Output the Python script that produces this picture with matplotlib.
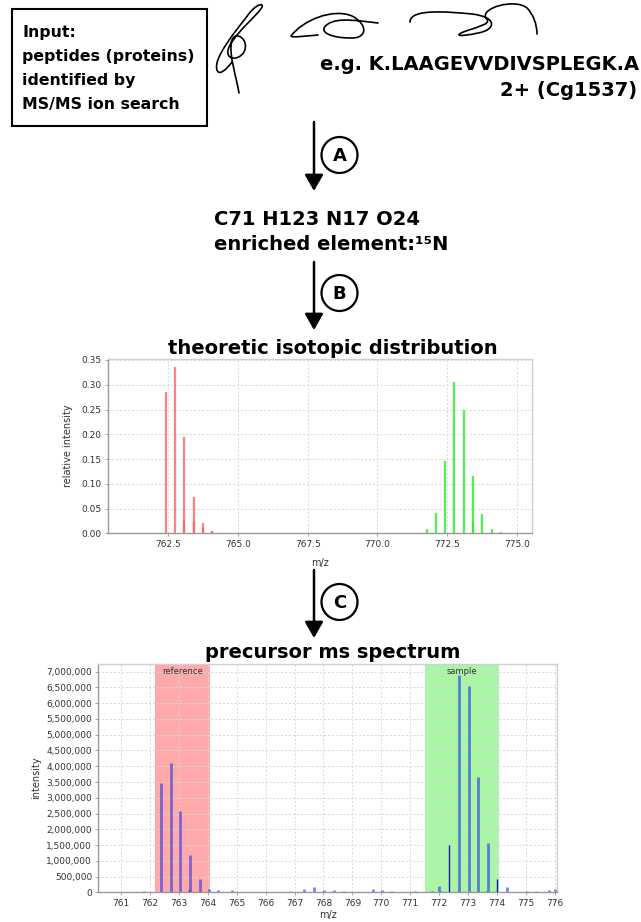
import matplotlib
matplotlib.use("Agg")
import matplotlib.pyplot as plt
from matplotlib.path import Path
from matplotlib.patches import PathPatch, Circle, Rectangle
from matplotlib.ticker import FuncFormatter, MultipleLocator, FormatStrFormatter

# ---------------- data ----------------
peptide = "e.g. K.LAAGEVVDIVSPLEGK.A"
charge_protein = "2+ (Cg1537)"
formula = "C71 H123 N17 O24"

# theoretic isotopic distribution (relative intensity)
theo_ref_mz = [762.40, 762.73, 763.06, 763.40, 763.73, 764.06, 764.40]
theo_ref_int = [0.286, 0.335, 0.194, 0.074, 0.021, 0.005, 0.0015]
theo_ref_minor_mz = [763.06, 763.40, 763.73, 764.06]
theo_ref_minor_int = [0.025, 0.025, 0.010, 0.004]

theo_sam_mz = [771.77, 772.11, 772.44, 772.76, 773.10, 773.43, 773.77, 774.10, 774.43]
theo_sam_int = [0.008, 0.041, 0.147, 0.305, 0.248, 0.116, 0.038, 0.008, 0.002]
theo_sam_minor_mz = [773.43]
theo_sam_minor_int = [0.024]

# precursor ms spectrum (intensity)
spec_mz = [761.80, 762.38, 762.71, 763.05, 763.38, 763.72, 764.05, 764.36, 764.85,
           766.33, 766.84, 767.34, 767.67, 768.02, 768.36, 768.69, 769.70, 770.04,
           770.37, 770.78, 771.15, 771.77, 772.01, 772.07, 772.68, 773.02, 773.35,
           773.68, 773.62, 773.97, 774.36, 774.59, 775.03, 775.36, 775.81, 776.00]
spec_int = [50e3, 3.46e6, 4.09e6, 2.58e6, 1.18e6, 0.42e6, 0.10e6, 70e3, 60e3,
            20e3, 40e3, 100e3, 170e3, 80e3, 70e3, 50e3, 90e3, 60e3,
            30e3, 20e3, 30e3, 40e3, 200e3, 50e3, 6.90e6, 6.56e6, 3.67e6,
            1.58e6, 40e3, 50e3, 170e3, 20e3, 40e3, 30e3, 70e3, 100e3]
spec_dark_mz = [763.35, 772.35, 774.02]
spec_dark_int = [60e3, 1.50e6, 0.42e6]

ref_window = (762.18, 764.08)
sam_window = (771.52, 774.09)

# ---------------- figure ----------------
W, H = 641, 922
fig = plt.figure(figsize=(W / 100, H / 100), dpi=100)
fig.patch.set_facecolor("white")

# overlay in pixel coordinates for the flow diagram
ov = fig.add_axes([0, 0, 1, 1], zorder=0)
ov.set_xlim(0, W)
ov.set_ylim(H, 0)
ov.axis("off")
ov.patch.set_alpha(0)

bold = dict(fontweight="bold", family="DejaVu Sans", color="black")

# input box
ov.add_patch(Rectangle((12, 9), 195, 117, fill=False, lw=1.5, ec="black"))
for txt, yb in zip(["Input:", "peptides (proteins)", "identified by", "MS/MS ion search"],
                   [37.5, 61.5, 85, 108.5]):
    ov.text(22, yb, txt, fontsize=11.3, va="baseline", ha="left", **bold)

# hand-drawn squiggles (peptide sketch)
def squiggle(verts):
    codes = [Path.MOVETO] + [Path.CURVE4] * (len(verts) - 1)
    ov.add_patch(PathPatch(Path(verts, codes), fill=False, lw=1.2, ec="black",
                           capstyle="round", joinstyle="round"))

squiggle([(239, 93), (236, 75), (228, 52), (232, 40),
          (236, 30), (250, 40), (244, 52),
          (238, 62), (222, 60), (230, 45),
          (240, 28), (258, 15), (262, 7),
          (264, 2), (255, 5), (248, 15),
          (235, 32), (213, 58), (217, 70),
          (219, 76), (226, 70), (232, 62)])
squiggle([(318, 35), (305, 36), (292, 38), (291, 36),
          (303, 20), (333, 8), (352, 16),
          (368, 24), (368, 39), (350, 38),
          (332, 38), (316, 32), (328, 24),
          (338, 17), (360, 21), (378, 23)])
squiggle([(410, 22), (410, 8), (450, 12), (472, 14),
          (498, 17), (496, 30), (478, 33),
          (460, 37), (452, 36), (466, 31),
          (480, 26), (492, 24), (486, 18),
          (480, 8), (515, -2), (527, 8),
          (533, 14), (537, 24), (537, 34)])

ov.text(320, 70, peptide, fontsize=14, ha="left", va="baseline", **bold)
ov.text(637, 96.5, charge_protein, fontsize=14, ha="right", va="baseline", **bold)

ov.text(214, 225, formula, fontsize=14, ha="left", va="baseline", **bold)
ov.text(214, 249.5, "enriched element:\u00b9\u2075N", fontsize=14, ha="left", va="baseline", **bold)

# arrows with step markers
def step_arrow(y0, y1, letter, cy):
    ov.annotate("", xy=(314, y1), xytext=(314, y0),
                arrowprops=dict(arrowstyle="-|>,head_length=0.7,head_width=0.4",
                                lw=1.8, color="black", mutation_scale=14,
                                shrinkA=0, shrinkB=0))
    ov.add_patch(Circle((339.5, cy), 18, fill=False, lw=1.6, ec="black"))
    ov.text(339.5, cy + 1, letter, fontsize=13, ha="center", va="center", **bold)

step_arrow(122, 191, "A", 155)
step_arrow(262, 330, "B", 293)
step_arrow(570, 638, "C", 602)

ov.text(333, 354, "theoretic isotopic distribution", fontsize=14, ha="center",
        va="baseline", **bold)
ov.text(333, 658, "precursor ms spectrum", fontsize=14, ha="center",
        va="baseline", **bold)

# ---------------- chart styling helper ----------------
tick_color = "#333333"

def style_chart(ax):
    ax.set_facecolor("white")
    ax.grid(True, color="#d8d8d8", linestyle=(0, (2, 2)), lw=0.7)
    ax.set_axisbelow(True)
    for side in ("top", "right"):
        ax.spines[side].set_color("#d0d0d0")
    for side in ("left", "bottom"):
        ax.spines[side].set_color("#999999")
    for s in ax.spines.values():
        s.set_linewidth(1.0)
    ax.tick_params(labelsize=6.5, colors="#999999", labelcolor=tick_color,
                   length=2, width=0.6, pad=2.5)

# ---------------- theoretic distribution ----------------
ax1 = fig.add_axes([108 / W, 1 - 533.3 / H, 424 / W, 174.3 / H], zorder=1)
style_chart(ax1)
ax1.vlines(theo_ref_mz, 0, theo_ref_int, color="#ff5555", lw=1.6, alpha=0.75)
ax1.vlines(theo_ref_minor_mz, 0, theo_ref_minor_int, color="#ff5555", lw=1.6, alpha=0.6)
ax1.vlines(theo_sam_mz, 0, theo_sam_int, color="#33ee33", lw=1.6, alpha=0.85)
ax1.vlines(theo_sam_minor_mz, 0, theo_sam_minor_int, color="#33dd33", lw=1.6, alpha=0.6)
ax1.set_xlim(760.33, 775.55)
ax1.set_ylim(0, 0.352)
ax1.xaxis.set_major_locator(MultipleLocator(2.5))
ax1.xaxis.set_major_formatter(FormatStrFormatter("%.1f"))
ax1.yaxis.set_major_locator(MultipleLocator(0.05))
ax1.yaxis.set_major_formatter(FormatStrFormatter("%.2f"))
ax1.set_xlabel("m/z", fontsize=7, color=tick_color, labelpad=7)
ax1.set_ylabel("relative intensity", fontsize=7, color=tick_color, labelpad=6)

# ---------------- precursor spectrum ----------------
ax2 = fig.add_axes([98.3 / W, 1 - 892.3 / H, 459 / W, 228.3 / H], zorder=1)
style_chart(ax2)
ax2.axvspan(*ref_window, color="#ffaaaa", zorder=0.5, lw=0)
ax2.axvspan(*sam_window, color="#aaf5a6", zorder=0.5, lw=0)
ax2.vlines(spec_mz, 0, spec_int, color="#2233ee", lw=2.0, alpha=0.6, zorder=2)
ax2.vlines(spec_dark_mz, 0, spec_dark_int, color="#1a1aa8", lw=1.0, zorder=3)
ax2.set_xlim(760.21, 776.09)
ax2.set_ylim(0, 7.245e6)
ax2.xaxis.set_major_locator(MultipleLocator(1))
ax2.xaxis.set_major_formatter(FormatStrFormatter("%d"))
ax2.yaxis.set_major_locator(MultipleLocator(500000))
ax2.yaxis.set_major_formatter(FuncFormatter(lambda v, p: f"{v:,.0f}"))
ax2.set_xlabel("m/z", fontsize=7, color=tick_color, labelpad=2)
ax2.set_ylabel("intensity", fontsize=7, color=tick_color, labelpad=4)
ax2.text(sum(ref_window) / 2, 7.0e6, "reference", fontsize=6, ha="center",
         va="center", color="#333333", zorder=4)
ax2.text(sum(sam_window) / 2, 7.0e6, "sample", fontsize=6, ha="center",
         va="center", color="#333333", zorder=4)

fig.savefig("out.png", dpi=100, facecolor="white")
